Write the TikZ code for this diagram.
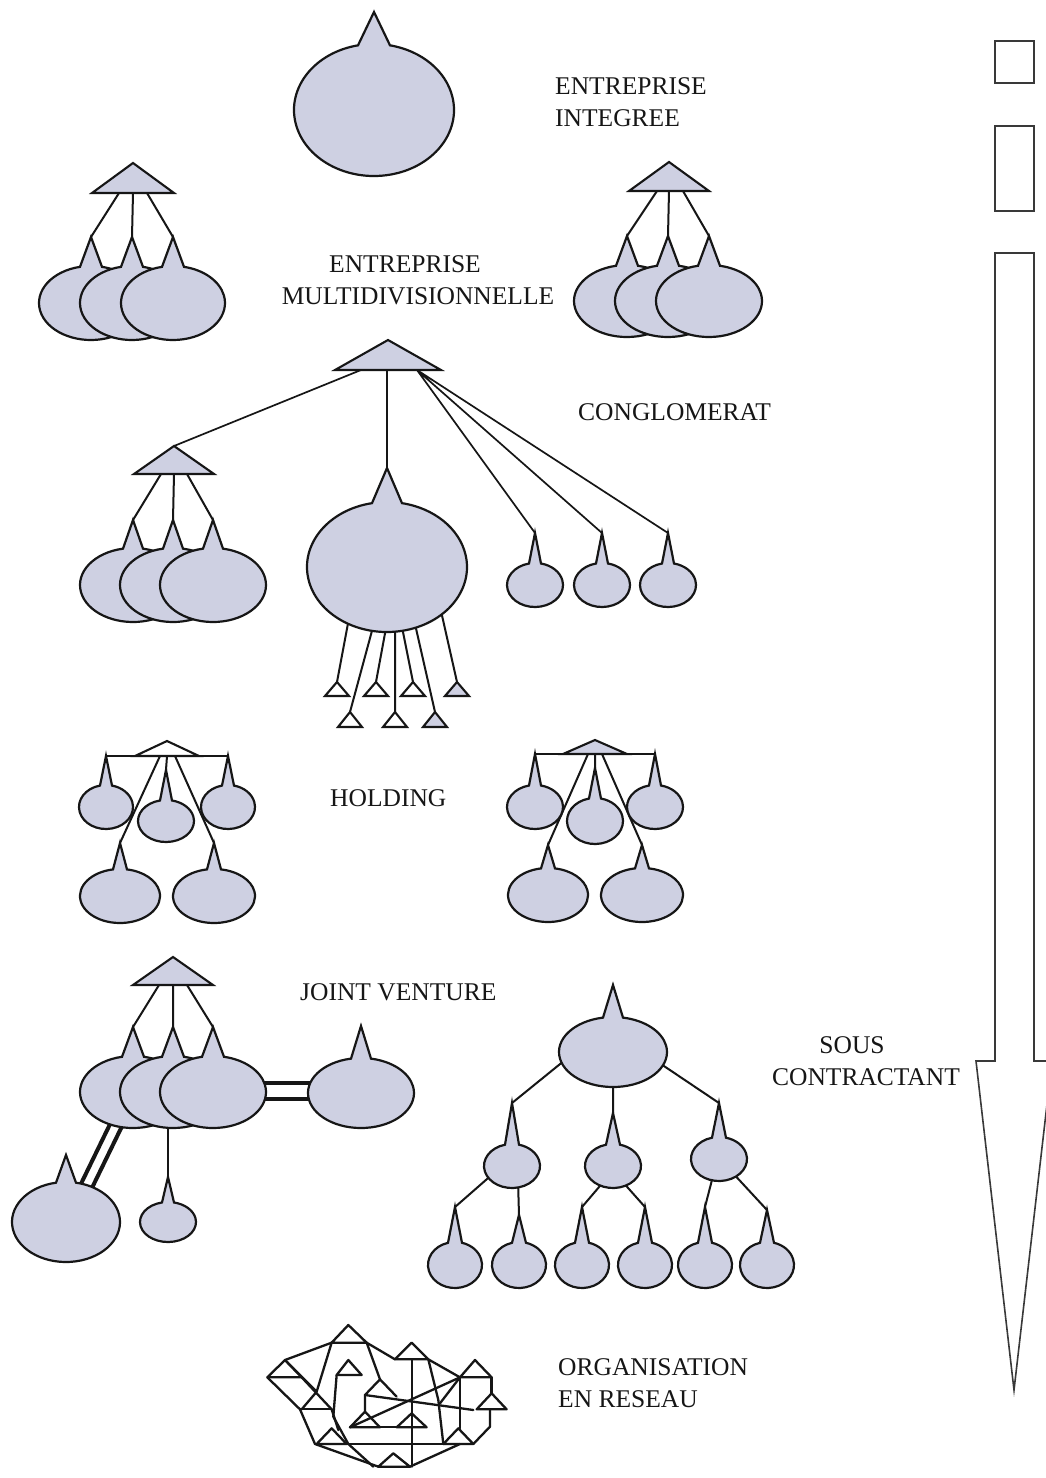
\documentclass[tikz,border=0pt]{standalone}
\usepackage{fontspec}
\setmainfont{Liberation Serif}
\definecolor{bulbc}{RGB}{206,208,226}
\definecolor{inkc}{RGB}{22,22,22}
\pgfdeclarelayer{back}
\pgfsetlayers{back,main}

% a rounded unit with a pointed top:
% name, centre x, centre y, x radius, y radius, tip y, half width of the spike base
\newcommand\bulb[7]{%
  \pgfmathsetmacro\bulbang{asin(#7/#4)}%
  \coordinate (#1) at (#2,-#3);%
  \coordinate (#1-t) at (#2,-#6);%
  \path[bulbsty] ({#2-#7},{-#3+#5*cos(\bulbang)})
    arc[start angle=90+\bulbang, end angle=450-\bulbang, x radius=#4, y radius=#5]
    -- (#1-t) -- cycle;%
}
% a head triangle: name, apex x, apex y, half base, base y, extra style
\newcommand\htri[6]{%
  \coordinate (#1) at (#2,-#3);%
  \path[headtri,#6] (#1) -- ({#2-#4},-#5) -- ({#2+#4},-#5) -- cycle;%
}

\begin{document}
\begin{tikzpicture}[x=1pt,y=1pt,
  bulbsty/.style={fill=bulbc, draw=inkc, line width=2.2pt, line join=miter},
  headtri/.style={fill=bulbc, draw=inkc, line width=2.1pt, line join=miter},
  conn/.style={draw=inkc, line width=2pt},
  bar/.style={draw=inkc, line width=4pt},
  scalesty/.style={draw=inkc!85, line width=1.6pt, line join=miter},
  net/.style={draw=inkc, line width=2.3pt, line join=round, line cap=round},
  lbl/.style={anchor=base west, inner sep=0, font=\fontsize{25.5}{32}\selectfont, text=inkc},
  lblc/.style={lbl, anchor=base},
]
\clip (0,0) rectangle (1046,-1478);
\begin{pgfonlayer}{back}
  \fill[white] (0,0) rectangle (1046,-1478);
\end{pgfonlayer}

% ---------- scale on the right
\draw[scalesty] (995,-41) rectangle (1034,-83);
\draw[scalesty] (995,-126) rectangle (1034,-211);
\draw[scalesty] (995,-253) -- (1034,-253) -- (1034,-1061) -- (1052,-1061)
  -- (1014,-1390) -- (976,-1061) -- (995,-1061) -- cycle;

% ---------- integrated firm
\bulb{ei}{374}{110}{80}{66}{12}{16}
\node[lbl] (lab-ei1) at (555,-94) {ENTREPRISE};
\node[lbl] (lab-ei2) at (555,-126) {INTEGREE};

% ---------- multidivisional firm, left
\bulb{mlA}{91}{303}{52}{37}{237}{11}
\bulb{mlB}{132}{303}{52}{37}{237}{11}
\bulb{mlC}{173}{303}{52}{37}{237}{11}
\htri{mlH}{133}{163}{41}{193}{}
\coordinate (mlH1) at (119,-193);
\coordinate (mlH2) at (133,-193);
\coordinate (mlH3) at (147,-193);
% right
\bulb{mrA}{627}{301}{53}{36}{236}{11}
\bulb{mrB}{668}{301}{53}{36}{236}{11}
\bulb{mrC}{709}{301}{53}{36}{236}{11}
\htri{mrH}{669}{162}{40}{191}{}
\coordinate (mrH1) at (657,-191);
\coordinate (mrH2) at (669,-191);
\coordinate (mrH3) at (683,-191);
\begin{pgfonlayer}{back}
  \draw[conn] (mlH1) -- (mlA-t) (mlH2) -- (mlB-t) (mlH3) -- (mlC-t);
  \draw[conn] (mrH1) -- (mrA-t) (mrH2) -- (mrB-t) (mrH3) -- (mrC-t);
\end{pgfonlayer}
\node[lblc] (lab-md1) at (405,-272) {ENTREPRISE};
\node[lblc] (lab-md2) at (418,-304) {MULTIDIVISIONNELLE};

% ---------- conglomerate
\htri{cgH}{388}{340}{53}{370}{}
\htri{cgS}{174}{446}{40}{474}{}
\coordinate (cgH1) at (361,-370);
\coordinate (cgH2) at (387,-370);
\coordinate (cgH3) at (417,-370);
\coordinate (cgS1) at (161,-474);
\coordinate (cgS2) at (174,-474);
\coordinate (cgS3) at (187,-474);
\bulb{cgA}{133}{585}{53}{37}{520}{10}
\bulb{cgB}{173}{585}{53}{37}{520}{10}
\bulb{cgC}{213}{585}{53}{37}{520}{10}
\bulb{cgBig}{387}{567}{80}{65}{468}{15}
\bulb{cgs1}{535}{585}{28}{22}{533}{6}
\bulb{cgs2}{602}{585}{28}{22}{533}{6}
\bulb{cgs3}{668}{585}{28}{22}{533}{6}
% small units hanging below the large one
\htri{u1}{337}{682}{12}{696}{fill=white}
\htri{u2}{376}{682}{12}{696}{fill=white}
\htri{u3}{413}{682}{12}{696}{fill=white}
\htri{u4}{457}{682}{12}{696}{}
\htri{v1}{350}{712}{12}{727}{fill=white}
\htri{v2}{395}{712}{12}{727}{fill=white}
\htri{v3}{435}{712}{12}{727}{}
\coordinate (b1) at (349,-618);
\coordinate (b2) at (373,-627);
\coordinate (b3) at (386,-628);
\coordinate (b4) at (395,-628);
\coordinate (b5) at (402,-627);
\coordinate (b6) at (415,-624);
\coordinate (b7) at (441,-611);
\begin{pgfonlayer}{back}
  \draw[conn, line width=1.7pt] (cgH1) -- (cgS) (cgH2) -- (cgBig-t)
    (cgH3) -- (cgs1-t) (cgH3) -- (cgs2-t) (cgH3) -- (cgs3-t);
  \draw[conn] (cgS1) -- (cgA-t) (cgS2) -- (cgB-t) (cgS3) -- (cgC-t);
  \draw[conn] (b1) -- (u1) (b2) -- (v1) (b3) -- (u2) (b4) -- (v2)
    (b5) -- (u3) (b6) -- (v3) (b7) -- (u4);
\end{pgfonlayer}
\node[lbl] (lab-cg) at (578,-420) {CONGLOMERAT};

% ---------- holding, left
\coordinate (hlL) at (107,-756);
\coordinate (hlR) at (228,-756);
\coordinate (hl1) at (160,-756);
\coordinate (hl2) at (167,-756);
\coordinate (hl3) at (175,-756);
\bulb{hlA}{106}{807}{27}{22}{756}{6}
\bulb{hlC}{228}{807}{27}{22}{756}{6}
\bulb{hlB}{166}{821}{28}{21}{770}{6}
\bulb{hlD}{120}{896}{40}{27}{843}{7}
\bulb{hlE}{214}{896}{41}{27}{843}{7}
\htri{hlH}{167}{741}{32}{756}{fill=white}
\draw[conn] (hlL) -- (hlR);
% holding, right
\coordinate (hrL) at (535,-754);
\coordinate (hrR) at (656,-754);
\coordinate (hr1) at (588,-754);
\coordinate (hr2) at (595,-754);
\coordinate (hr3) at (602,-754);
\bulb{hrA}{535}{807}{28}{22}{754}{6}
\bulb{hrC}{655}{807}{28}{22}{754}{6}
\bulb{hrB}{595}{821}{28}{23}{768}{6}
\bulb{hrD}{548}{895}{40}{27}{845}{7}
\bulb{hrE}{642}{895}{41}{27}{845}{7}
\htri{hrH}{595}{740}{32}{754}{}
\draw[conn] (hrL) -- (hrR);
\begin{pgfonlayer}{back}
  \draw[conn] (hl2) -- (hlB-t) (hl1) -- (hlD-t) (hl3) -- (hlE-t);
  \draw[conn] (hr2) -- (hrB-t) (hr1) -- (hrD-t) (hr3) -- (hrE-t);
\end{pgfonlayer}
\node[lbl] (lab-hd) at (330,-806) {HOLDING};

% ---------- joint venture
\htri{jvH}{173}{957}{40}{985}{}
\coordinate (jvH1) at (159,-985);
\coordinate (jvH2) at (173,-985);
\coordinate (jvH3) at (187,-985);
\bulb{jvA}{133}{1092}{53}{36}{1027}{11}
\bulb{jvB}{173}{1092}{53}{36}{1027}{11}
\bulb{jvC}{213}{1092}{53}{36}{1027}{11}
\bulb{jvP}{361}{1093}{53}{35}{1026}{10}
\bulb{jvL}{66}{1222}{54}{40}{1155}{10}
\bulb{jvS}{168}{1222}{28}{20}{1177}{6}
\coordinate (jvb) at (168,-1120);
\coordinate (jx1) at (258,-1083);
\coordinate (jx2) at (314,-1083);
\coordinate (jx3) at (258,-1099);
\coordinate (jx4) at (314,-1099);
\coordinate (jy1) at (113,-1118);
\coordinate (jy2) at (77,-1192);
\coordinate (jy3) at (126,-1118);
\coordinate (jy4) at (90,-1192);
\begin{pgfonlayer}{back}
  \draw[conn] (jvH1) -- (jvA-t) (jvH2) -- (jvB-t) (jvH3) -- (jvC-t);
  \draw[conn, line width=1.6pt] (jvb) -- (jvS-t);
  \draw[bar] (jx1) -- (jx2) (jx3) -- (jx4);
  \draw[bar] (jy1) -- (jy2) (jy3) -- (jy4);
\end{pgfonlayer}
\node[lbl] (lab-jv) at (300,-1000) {JOINT VENTURE};

% ---------- subcontracting tree
\bulb{sc0}{613}{1052}{54}{35}{985}{10}
\bulb{scL}{512}{1166}{28}{22}{1103}{7}
\bulb{scM}{613}{1166}{28}{22}{1113}{7}
\bulb{scR}{719}{1159}{28}{22}{1103}{7}
\bulb{sl1}{455}{1265}{27}{23}{1207}{7}
\bulb{sl2}{519}{1265}{27}{23}{1215}{7}
\bulb{sl3}{582}{1265}{27}{23}{1207}{7}
\bulb{sl4}{645}{1265}{27}{23}{1207}{7}
\bulb{sl5}{705}{1265}{27}{23}{1207}{7}
\bulb{sl6}{767}{1265}{27}{23}{1210}{7}
\coordinate (s0a) at (565,-1060);
\coordinate (s0b) at (613,-1082);
\coordinate (s0c) at (655,-1060);
\coordinate (sLa) at (495,-1172);
\coordinate (sLb) at (518,-1180);
\coordinate (sMa) at (605,-1180);
\coordinate (sMb) at (621,-1180);
\coordinate (sRa) at (714,-1172);
\coordinate (sRb) at (730,-1170);
\begin{pgfonlayer}{back}
  \draw[conn] (s0a) -- (scL-t) (s0b) -- (scM-t) (s0c) -- (scR-t);
  \draw[conn] (sLa) -- (sl1-t) (sLb) -- (sl2-t) (sMa) -- (sl3-t)
    (sMb) -- (sl4-t) (sRa) -- (sl5-t) (sRb) -- (sl6-t);
\end{pgfonlayer}
\node[lblc] (lab-sc1) at (852,-1053) {SOUS};
\node[lblc] (lab-sc2) at (866,-1085) {CONTRACTANT};

% ---------- network organisation
\begin{scope}[shift={(260,-1320)}, x=0.3333pt, y=-0.3333pt]
  \draw[net] (265,15) -- (215,68) -- (320,68) -- cycle;
  \draw[net] (75,120) -- (22,172) -- (125,172) -- cycle;
  \draw[net] (265,120) -- (230,165) -- (305,165) -- cycle;
  \draw[net] (455,68) -- (405,118) -- (505,118) -- cycle;
  \draw[net] (645,120) -- (600,172) -- (695,172) -- cycle;
  \draw[net] (695,220) -- (650,268) -- (740,268) -- cycle;
  \draw[net] (315,275) -- (270,322) -- (360,322) -- cycle;
  \draw[net] (455,280) -- (410,322) -- (500,322) -- cycle;
  \draw[net] (595,325) -- (550,372) -- (640,372) -- cycle;
  \draw[net] (215,325) -- (170,372) -- (260,372) -- cycle;
  \draw[net] (400,400) -- (355,440) -- (450,440) -- cycle;
  \draw[net] (215,68) -- (75,120);
  \draw[net] (320,68) -- (405,118);
  \draw[net] (75,120) -- (170,215);
  \draw[net] (215,68) -- (170,215) -- (125,268);
  \draw[net] (22,172) -- (120,268) -- (165,372);
  \draw[net] (120,268) -- (215,268);
  \draw[net] (230,165) -- (220,290) -- (265,372) -- (340,440);
  \draw[net] (125,172) -- (215,268) -- (235,330);
  \draw[net] (320,68) -- (360,178) -- (315,225) -- (315,275);
  \draw[net] (360,178) -- (410,230);
  \draw[net] (315,225) -- (640,270);
  \draw[net] (600,172) -- (270,322);
  \draw[net] (455,118) -- (455,440);
  \draw[net] (505,118) -- (600,172);
  \draw[net] (505,118) -- (535,240) -- (550,372);
  \draw[net] (600,172) -- (600,325);
  \draw[net] (600,172) -- (540,250);
  \draw[net] (695,172) -- (695,220);
  \draw[net] (690,268) -- (690,320) -- (640,372);
  \draw[net] (360,322) -- (410,322);
  \draw[net] (165,372) -- (640,372);
  \draw[net] (165,372) -- (355,440);
  \draw[net] (600,372) -- (450,440);
\end{scope}
\node[lbl] (lab-nw1) at (558,-1375) {ORGANISATION};
\node[lbl] (lab-nw2) at (558,-1407) {EN RESEAU};
\end{tikzpicture}
\end{document}
